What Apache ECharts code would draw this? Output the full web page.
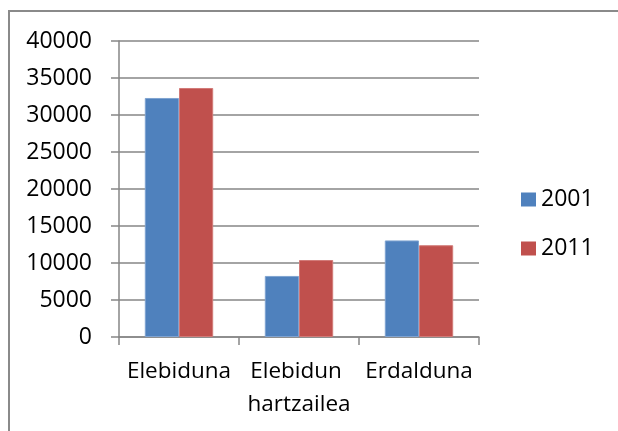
<!DOCTYPE html>
<html>
<head>
<meta charset="utf-8">
<script src="https://cdn.jsdelivr.net/npm/echarts@6/dist/echarts.min.js"></script>
<style>
  html, body { margin: 0; padding: 0; background: #fff; }
  #main { width: 618px; height: 431px; }
</style>
</head>
<body>
<div id="main"></div>
<script>
const categories = ['Elebiduna', 'Elebidun hartzailea', 'Erdalduna']
const seriesNames = ['2001', '2011']
const values2001 = [32300, 8250, 13050]
const values2011 = [33650, 10400, 12400]

const font = '"Open Sans", "Liberation Sans", sans-serif'
const axisGray = '#868686'

const chart = echarts.init(document.getElementById('main'))

const option = {
  backgroundColor: '#fff',
  animation: false,
  graphic: [
    {
      type: 'rect',
      shape: { x: 9, y: 11, width: 700, height: 500 },
      style: { fill: 'none', stroke: '#8a8a8a', lineWidth: 2 },
      silent: true
    }
  ],
  legend: {
    data: seriesNames,
    orient: 'vertical',
    left: 521,
    top: 188,
    padding: 0,
    itemWidth: 15,
    itemHeight: 14,
    itemGap: 26,
    icon: 'rect',
    itemStyle: { borderWidth: 0 },
    textStyle: {
      fontFamily: font,
      fontSize: 23,
      lineHeight: 23,
      color: '#000'
    }
  },
  grid: {
    left: 119,
    right: 139,
    top: 41,
    bottom: 94,
    containLabel: false,
    outerBoundsMode: 'none'
  },
  xAxis: {
    type: 'category',
    data: categories,
    axisLine: { lineStyle: { color: axisGray, width: 1.5 } },
    axisTick: { show: true, length: 8, lineStyle: { color: axisGray, width: 1.5 } },
    axisLabel: {
      fontFamily: font,
      fontSize: 22.5,
      lineHeight: 33,
      color: '#000',
      margin: 18,
      width: 118,
      overflow: 'break',
      interval: 0
    }
  },
  yAxis: {
    type: 'value',
    min: 0,
    max: 40000,
    interval: 5000,
    axisLine: { show: true, lineStyle: { color: axisGray, width: 1.5 } },
    axisTick: { show: true, length: 8, lineStyle: { color: axisGray, width: 1.5 } },
    splitLine: { lineStyle: { color: axisGray, width: 1.5 } },
    axisLabel: {
      fontFamily: font,
      fontSize: 23,
      color: '#000',
      margin: 27,
      formatter: (v) => String(v)
    }
  },
  series: [
    {
      name: seriesNames[0],
      type: 'bar',
      barGap: '0%',
      barCategoryGap: '43%',
      itemStyle: { color: '#4F81BD', borderColor: '#7fa3d1', borderWidth: 1 },
      data: values2001
    },
    {
      name: seriesNames[1],
      type: 'bar',
      barGap: '0%',
      barCategoryGap: '43%',
      itemStyle: { color: '#C0504D', borderColor: '#d27a78', borderWidth: 1 },
      data: values2011
    }
  ]
}

chart.setOption(option)
</script>
</body>
</html>
